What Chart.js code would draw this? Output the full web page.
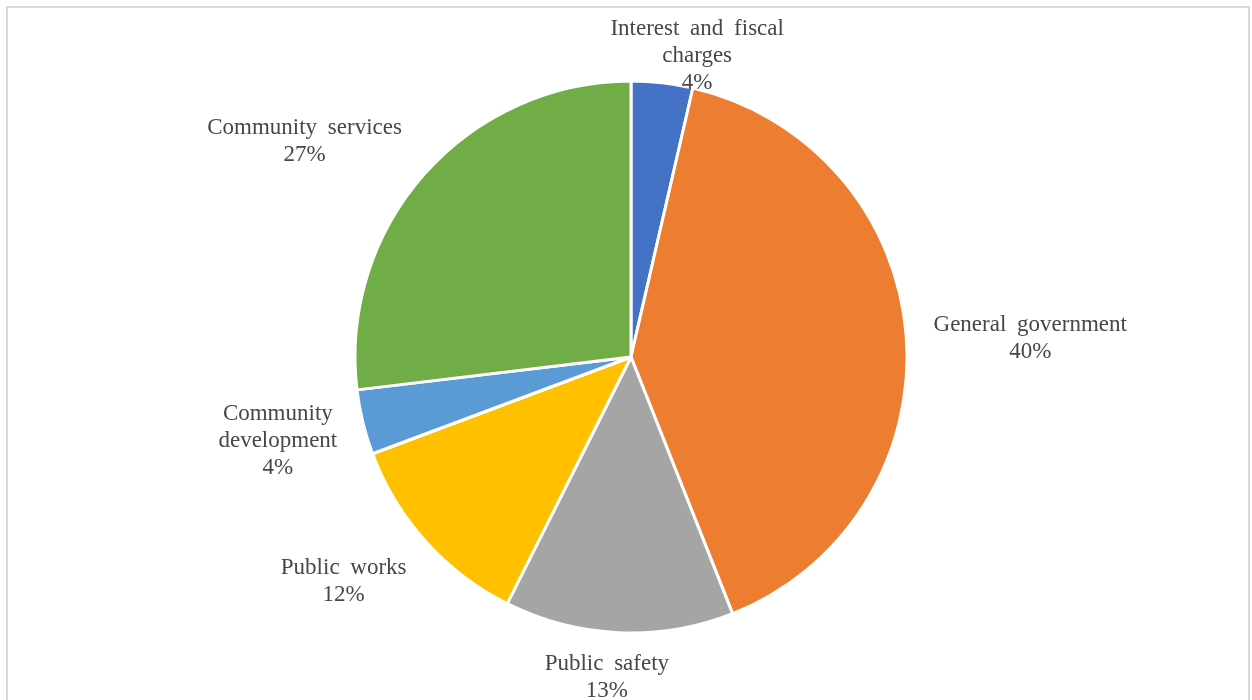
<!DOCTYPE html>
<html>
<head>
<meta charset="utf-8">
<script src="https://cdn.jsdelivr.net/npm/chart.js@4"></script>
<style>
  html, body { margin: 0; padding: 0; background: #fff; overflow: hidden; }
  #frame { position: absolute; left: 6px; top: 6px; width: 1244px; height: 720px;
           border: 2px solid #d9d9d9; box-sizing: border-box; }
  #c { position: absolute; left: 0; top: 0; }
</style>
</head>
<body>
<div id="frame"></div>
<canvas id="c" width="1252" height="700"></canvas>
<script>
// ---- data ----
const categories = [
  ['Interest and fiscal', 'charges'],
  ['General government'],
  ['Public safety'],
  ['Public works'],
  ['Community', 'development'],
  ['Community services']
];
const shares = [3.6, 40.4, 13.4, 11.9, 3.8, 26.9];
const sliceColors = ['#4472C4', '#ED7D31', '#A5A5A5', '#FFC000', '#5B9BD5', '#70AD47'];

// label placement (offset from the slice's outer edge at its mid-angle)
const labelOffsets = [[35, -27], [124, 2], [-12, 45], [-82, 40], [-85, 19], [-120, -32]];

const labelPlugin = {
  id: 'pieLabels',
  afterDatasetsDraw(chart) {
    const ctx = chart.ctx;
    const meta = chart.getDatasetMeta(0);
    const data = chart.data.datasets[0].data;
    const total = data.reduce((a, b) => a + b, 0);
    ctx.save();
    ctx.font = '23px "Liberation Serif", "Times New Roman", serif';
    if ('wordSpacing' in ctx) ctx.wordSpacing = '5px';
    ctx.fillStyle = '#474747';
    ctx.textAlign = 'center';
    ctx.textBaseline = 'middle';
    const lh = 27;
    meta.data.forEach((arc, i) => {
      const p = arc.getProps(['x', 'y', 'startAngle', 'endAngle', 'outerRadius'], true);
      const mid = (p.startAngle + p.endAngle) / 2;
      const ex = p.x + Math.cos(mid) * p.outerRadius;
      const ey = p.y + Math.sin(mid) * p.outerRadius;
      const cx = ex + labelOffsets[i][0];
      const cy = ey + labelOffsets[i][1];
      const lines = chart.data.labels[i].concat([Math.round(data[i] / total * 100) + '%']);
      const y0 = cy - (lines.length - 1) * lh / 2;
      lines.forEach((t, k) => ctx.fillText(t, cx, y0 + k * lh));
    });
    ctx.restore();
  }
};

new Chart(document.getElementById('c'), {
  type: 'pie',
  data: {
    labels: categories,
    datasets: [{
      data: shares,
      backgroundColor: sliceColors,
      borderColor: '#ffffff',
      borderWidth: 3
    }]
  },
  options: {
    responsive: false,
    animation: false,
    devicePixelRatio: 1,
    radius: 276,
    layout: { padding: { top: 81, bottom: 67, left: 355, right: 345 } },
    plugins: { legend: { display: false }, tooltip: { enabled: false } }
  },
  plugins: [labelPlugin]
});
</script>
</body>
</html>
